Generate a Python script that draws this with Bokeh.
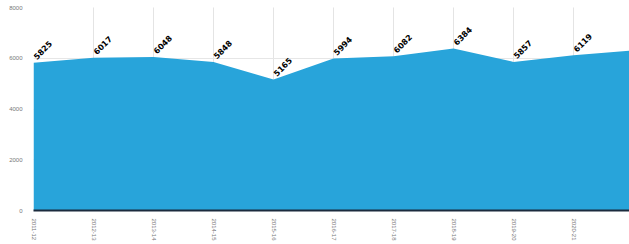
from bokeh.plotting import figure
from bokeh.models import FixedTicker, ColumnDataSource, Range1d
from bokeh.core.properties import value
from bokeh.embed import file_html
from bokeh.resources import INLINE
import math

years = ["2011-12", "2012-13", "2013-14", "2014-15", "2015-16", "2016-17",
         "2017-18", "2018-19", "2019-20", "2020-21", "2021-22"]
values = [5825, 6017, 6048, 5848, 5165, 5994, 6082, 6384, 5857, 6119, 6310]
y_ticks = [0, 2000, 4000, 6000, 8000]

idx = list(range(len(years)))
src = ColumnDataSource(dict(x=idx, y=values, lbl=[str(v) for v in values]))

p = figure(width=629, height=244, output_backend="svg", toolbar_location=None,
           x_range=Range1d(0, 9.933), y_range=Range1d(0, 8000),
           min_border_left=33, min_border_right=0, min_border_top=7, min_border_bottom=34)
p.outline_line_color = None
p.background_fill_color = "white"

p.varea(x="x", y1=0, y2="y", source=src, fill_color="#28a4da")

p.text(x="x", y="y", text="lbl", source=src, angle=math.pi / 4,
       text_font=value("DejaVu Sans"), text_font_style="bold", text_font_size="8px",
       text_color="black", text_baseline="alphabetic", text_align="left",
       x_offset=1, y_offset=-5)

p.xaxis.ticker = FixedTicker(ticks=idx)
p.xaxis.major_label_overrides = {i: y for i, y in enumerate(years)}
p.xaxis.major_label_orientation = -math.pi / 2
p.xaxis.major_label_text_font_size = "6px"
p.xaxis.major_label_text_color = "#777777"
p.xaxis.axis_line_color = "#1b2b3d"
p.xaxis.axis_line_width = 2
p.xaxis.major_tick_line_color = None
p.xaxis.minor_tick_line_color = None
p.xaxis.major_tick_out = 0
p.xaxis.major_tick_in = 0
p.xaxis.minor_tick_out = 0
p.xaxis.axis_label_standoff = 0
p.xaxis.major_label_standoff = 8

p.yaxis.ticker = FixedTicker(ticks=y_ticks)
p.yaxis.major_label_text_font_size = "6px"
p.yaxis.major_label_text_color = "#777777"
p.yaxis.axis_line_color = None
p.yaxis.major_tick_line_color = None
p.yaxis.minor_tick_line_color = None
p.yaxis.major_tick_out = 0
p.yaxis.major_tick_in = 0
p.yaxis.major_label_standoff = 11

p.xgrid.grid_line_color = "#c8c8c8"
p.xgrid.grid_line_dash = "1 1"
p.ygrid.grid_line_color = "#e6e6e6"

open("out.html", "w").write(file_html(p, INLINE))
